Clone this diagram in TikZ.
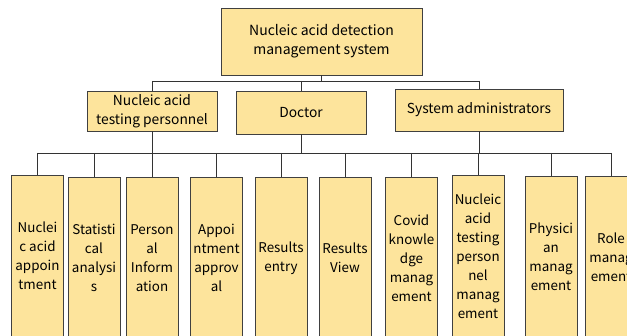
\documentclass[tikz,border=0pt]{standalone}
\usepackage{fontspec}
\newfontfamily\boxfont{Noto Sans CJK SC}
\usetikzlibrary{positioning, calc}
\definecolor{boxfill}{HTML}{FDE49C}
\tikzset{
    box/.style = {draw=black!75, fill=boxfill, inner sep=0pt, align=center,
        font=\boxfont},
    rootbox/.style = {box, minimum width=201pt, minimum height=67pt,
        font=\boxfont\fontsize{14}{19}\selectfont},
    rolebox/.style = {box, font=\boxfont\fontsize{13.8}{19}\selectfont},
    leafbox/.style = {box, anchor=north, minimum width=52pt, minimum height=162pt,
        font=\boxfont\fontsize{13.4}{19}\selectfont},
    link/.style = {draw=black!80, line width=0.8pt},
}

\begin{document}
\begin{tikzpicture}[x=1pt, y=-1pt]
        \useasboundingbox (0,0) rectangle (627,336);
        % top level
        \node [rootbox] (sys) at (321.5,41.5) {Nucleic acid detection\\management system};
        % roles
        \node [rolebox, minimum width=130pt, minimum height=40pt] (tester) at (152,111) {Nucleic acid\\testing personnel};
        \node [rolebox, minimum width=130pt, minimum height=43pt] (doctor) at (301,112.5) {Doctor};
        \node [rolebox, minimum width=168pt, minimum height=42pt] (admin) at (479,110) {System administrators};
        % functions
        \node [leafbox] (appoint) at (37.5,175) {Nuclei\\c acid\\appoin\\tment};
        \node [leafbox] (stats) at (94,177) {Statisti\\cal\\analysi\\s};
        \node [leafbox] (info) at (152,177) {Person\\al\\Inform\\ation};
        \node [leafbox] (approve) at (216.5,177) {Appoi\\ntment\\approv\\al};
        \node [leafbox] (entry) at (281,177) {Results\\entry};
        \node [leafbox] (view) at (345,177) {Results\\View};
        \node [leafbox] (covid) at (411.5,177) {Covid\\knowle\\dge\\manag\\ement};
        \node [leafbox] (testmgr) at (478,175) {Nucleic\\acid\\testing\\person\\nel\\manag\\ement};
        \node [leafbox] (docmgr) at (551,176) {Physici\\an\\manag\\ement};
        \node [leafbox] (rolemgr) at (611,176) {Role\\manag\\ement};
        % buses
        \coordinate (bus1) at (0,81);
        \coordinate (bus2) at (0,153);
        \draw [link] (sys.south) -- (sys.south |- bus1);
        \draw [link] (tester.north |- bus1) -- (admin.north |- bus1);
        \foreach \r in {tester, doctor, admin}
            \draw [link] (\r.north |- bus1) -- (\r.north)
                         (\r.south) -- (\r.south |- bus2);
        \draw [link] (appoint.north |- bus2) -- (rolemgr.north |- bus2);
        \foreach \f in {appoint, stats, info, approve, entry, view, covid, testmgr, docmgr, rolemgr}
            \draw [link] (\f.north |- bus2) -- (\f.north);
\end{tikzpicture}
\end{document}
